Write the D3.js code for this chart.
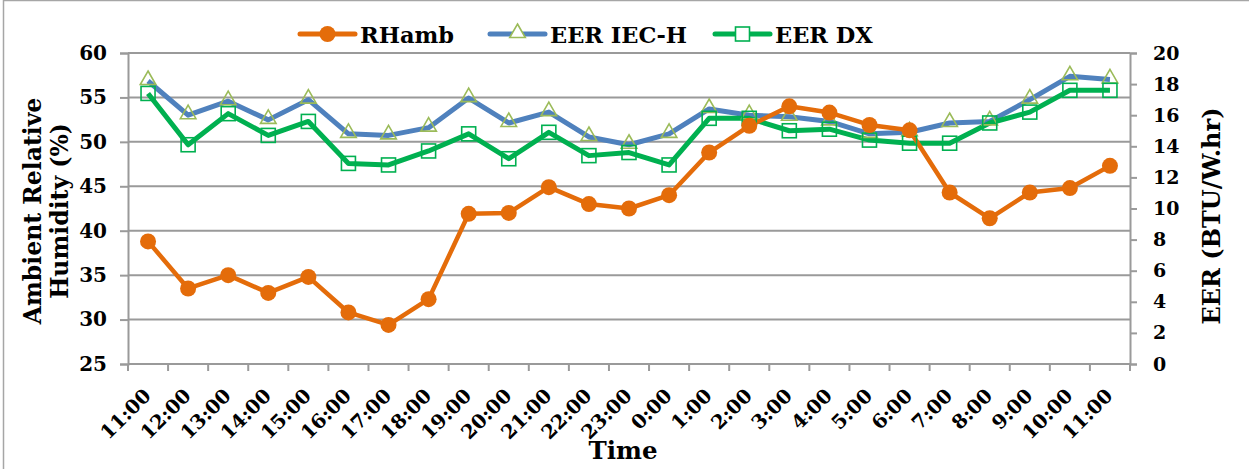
<!DOCTYPE html>
<html>
<head>
<meta charset="utf-8">
<script src="https://cdn.jsdelivr.net/npm/d3@7"></script>
<style>
  html, body { margin: 0; padding: 0; background: #fff; }
  svg { display: block; }
  text { font-family: "DejaVu Serif", "Liberation Serif", serif; font-weight: bold; fill: #000; }
</style>
</head>
<body>
<svg id="chart" width="1249" height="469"></svg>
<script>
// Hourly readings over one day
const times = ["11:00","12:00","13:00","14:00","15:00","16:00","17:00","18:00","19:00","20:00",
  "21:00","22:00","23:00","0:00","1:00","2:00","3:00","4:00","5:00","6:00","7:00","8:00",
  "9:00","10:00","11:00"];
// Ambient relative humidity (%), left axis
const rhAmb = [38.8,33.5,35.0,33.0,34.8,30.8,29.4,32.3,41.9,42.0,44.9,43.0,42.5,44.0,48.8,
  51.8,54.0,53.3,51.9,51.3,44.3,41.4,44.3,44.8,47.3];
// EER by IEC-H method (BTU/W.hr), right axis
const eerIec = [18.2,16.0,16.9,15.7,17.0,14.8,14.7,15.2,17.1,15.5,16.2,14.6,14.1,14.8,16.4,
  16.0,15.9,15.6,14.8,14.9,15.5,15.6,17.0,18.5,18.3];
// EER by direct expansion method (BTU/W.hr), right axis
const eerDx = [17.4,14.1,16.1,14.7,15.6,12.9,12.8,13.7,14.8,13.2,14.9,13.4,13.6,12.8,15.8,
  15.8,15.0,15.1,14.4,14.2,14.2,15.5,16.2,17.6,17.6];
const leftTicks = [25,30,35,40,45,50,55,60];
const rightTicks = [0,2,4,6,8,10,12,14,16,18,20];

const svg = d3.select("#chart");
const m = { left: 128, right: 1130, top: 53, bottom: 364 };
const gridColor = "#9a9a9a";
const FONT = "DejaVu Serif";

// outer frame
svg.append("rect").attr("x", 3.5).attr("y", 0.5).attr("width", 1260).attr("height", 490)
  .attr("fill", "none").attr("stroke", "#a6a6a6").attr("stroke-width", 1.5);

const x = d3.scaleBand().domain(d3.range(times.length)).range([m.left, m.right]);
const cx = i => x(i) + x.bandwidth() / 2;
const yL = d3.scaleLinear().domain([25, 60]).range([m.bottom, m.top]);
const yR = d3.scaleLinear().domain([0, 20]).range([m.bottom, m.top]);

// horizontal gridlines
svg.append("g").selectAll("line").data(leftTicks).join("line")
  .attr("x1", m.left).attr("x2", m.right)
  .attr("y1", d => yL(d)).attr("y2", d => yL(d))
  .attr("stroke", gridColor).attr("stroke-width", 2);

function styleAxis(g) {
  g.select(".domain").attr("stroke", gridColor).attr("stroke-width", 2);
  g.selectAll(".tick line").attr("stroke", gridColor).attr("stroke-width", 2);
  g.selectAll(".tick text").attr("font-size", 20)
    .style("font-family", FONT).style("font-weight", "bold").attr("fill", "#000");
}

// left axis
const gL = svg.append("g").attr("transform", `translate(${m.left},0)`)
  .call(d3.axisLeft(yL).tickValues(leftTicks).tickSize(8).tickPadding(13));
styleAxis(gL);

// right axis
const gR = svg.append("g").attr("transform", `translate(${m.right},0)`)
  .call(d3.axisRight(yR).tickValues(rightTicks).tickSize(7).tickPadding(16));
styleAxis(gR);
gR.selectAll(".tick text").attr("font-size", 19);

// bottom axis: ticks at category boundaries
const boundaries = d3.range(times.length + 1).map(i => m.left + i * x.bandwidth());
const gB = svg.append("g");
gB.append("line").attr("x1", m.left).attr("x2", m.right).attr("y1", m.bottom).attr("y2", m.bottom)
  .attr("stroke", gridColor).attr("stroke-width", 2);
gB.selectAll("line.tk").data(boundaries).join("line").attr("class", "tk")
  .attr("x1", d => d).attr("x2", d => d).attr("y1", m.bottom).attr("y2", m.bottom + 7)
  .attr("stroke", gridColor).attr("stroke-width", 2);
gB.selectAll("text").data(times).join("text")
  .attr("text-anchor", "end")
  .attr("font-size", 19.5)
  .attr("transform", (d, i) => `translate(${cx(i) + 4},${m.bottom + 33}) rotate(-45)`)
  .text(d => d);

// series
const colOrange = "#E46C0A", colBlue = "#4F81BD", colGreen = "#00B050", colTri = "#9BBB59";
const lineL = d3.line().x((d, i) => cx(i)).y(d => yL(d));
const lineR = d3.line().x((d, i) => cx(i)).y(d => yR(d));

svg.append("path").datum(eerIec).attr("d", lineR).attr("fill", "none")
  .attr("stroke", colBlue).attr("stroke-width", 5).attr("stroke-linejoin", "round");
svg.append("path").datum(eerDx).attr("d", lineR).attr("fill", "none")
  .attr("stroke", colGreen).attr("stroke-width", 5).attr("stroke-linejoin", "round");
svg.append("path").datum(rhAmb).attr("d", lineL).attr("fill", "none")
  .attr("stroke", colOrange).attr("stroke-width", 4.5).attr("stroke-linejoin", "round");

const tri = d3.symbol().type(d3.symbolTriangle).size(105);
svg.append("g").selectAll("path").data(eerIec).join("path")
  .attr("d", tri).attr("transform", (d, i) => `translate(${cx(i)},${yR(d) - 1})`)
  .attr("fill", "none").attr("stroke", colTri).attr("stroke-width", 1.6);
svg.append("g").selectAll("rect").data(eerDx).join("rect")
  .attr("x", (d, i) => cx(i) - 7).attr("y", d => yR(d) - 7).attr("width", 14).attr("height", 14)
  .attr("fill", "none").attr("stroke", colGreen).attr("stroke-width", 1.6);
svg.append("g").selectAll("circle").data(rhAmb).join("circle")
  .attr("cx", (d, i) => cx(i)).attr("cy", d => yL(d)).attr("r", 8).attr("fill", colOrange);

// legend
const legend = [
  { name: "RHamb", color: colOrange, mark: "circle", x: 300 },
  { name: "EER IEC-H", color: colBlue, mark: "triangle", x: 490 },
  { name: "EER DX", color: colGreen, mark: "square", x: 715 }
];
const ly = 34;
const lg = svg.append("g").selectAll("g").data(legend).join("g");
lg.append("line").attr("x1", d => d.x).attr("x2", d => d.x + 55).attr("y1", ly).attr("y2", ly)
  .attr("stroke", d => d.color).attr("stroke-width", 5).attr("stroke-linecap", "round");
lg.each(function(d) {
  const g = d3.select(this), mx = d.x + 27.5;
  if (d.mark === "circle") g.append("circle").attr("cx", mx).attr("cy", ly).attr("r", 8).attr("fill", d.color);
  if (d.mark === "triangle") g.append("path").attr("d", tri).attr("transform", `translate(${mx},${ly - 1})`)
    .attr("fill", "#fff").attr("stroke", colTri).attr("stroke-width", 1.6);
  if (d.mark === "square") g.append("rect").attr("x", mx - 7).attr("y", ly - 7).attr("width", 14).attr("height", 14)
    .attr("fill", "#fff").attr("stroke", colGreen).attr("stroke-width", 1.6);
});
lg.append("text").attr("x", d => d.x + 60).attr("y", 43).attr("font-size", 22.5).text(d => d.name);

// axis titles
const tL = svg.append("text").attr("text-anchor", "middle").attr("font-size", 23.5)
  .attr("transform", "translate(41,211) rotate(-90)");
tL.append("tspan").attr("x", 0).attr("dy", 0).text("Ambient Relative");
tL.append("tspan").attr("x", 0).attr("dy", 27).text("Humidity (%)");

svg.append("text").attr("text-anchor", "middle").attr("font-size", 24)
  .attr("transform", "translate(1220,216) rotate(-90)").text("EER (BTU/W.hr)");

svg.append("text").attr("text-anchor", "middle").attr("font-size", 24.5)
  .attr("x", 623).attr("y", 459).text("Time");
</script>
</body>
</html>
